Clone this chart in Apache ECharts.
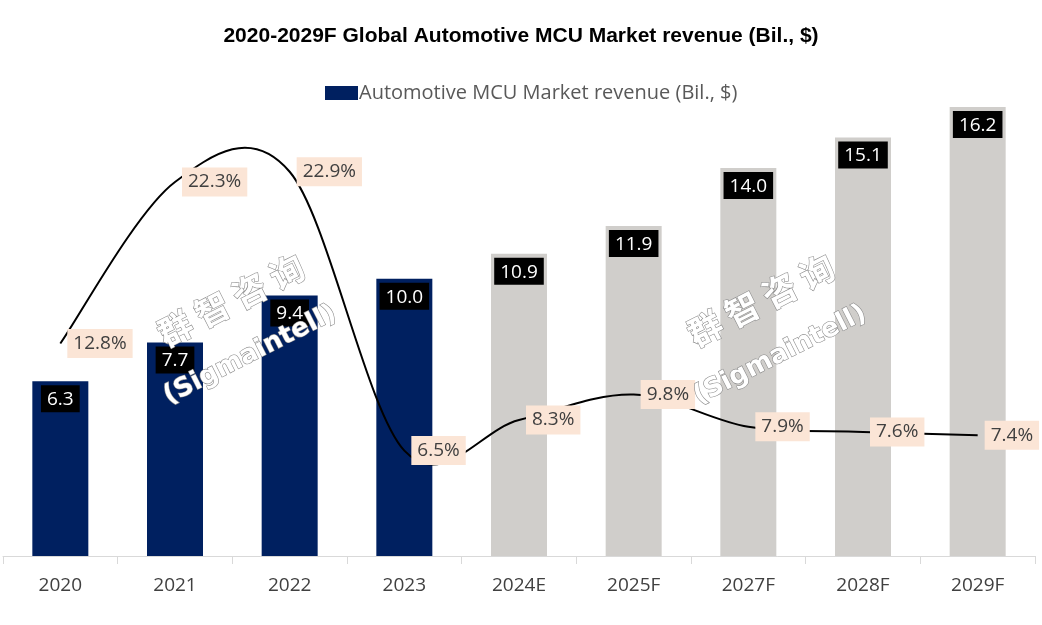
<!DOCTYPE html>
<html><head><meta charset="utf-8">
<script src="https://cdn.jsdelivr.net/npm/echarts@6/dist/echarts.min.js"></script>
<style>html,body{margin:0;padding:0;background:#fff}#c{width:1042px;height:625px}</style>
</head><body><div id="c"></div>
<script>
const categories = ['2020','2021','2022','2023','2024E','2025F','2027F','2028F','2029F'];
const revenue = [6.3, 7.7, 9.4, 10.0, 10.9, 11.9, 14.0, 15.1, 16.2];
const growth = [12.8, 22.3, 22.9, 6.5, 8.3, 9.8, 7.9, 7.6, 7.4];
const actualCount = 4;
const seriesName = 'Automotive MCU Market revenue (Bil., $)';
const titleText = '2020-2029F Global Automotive MCU Market revenue (Bil., $)';

const NAVY = '#002060', GRAY = '#d0cecb';
const chart = echarts.init(document.getElementById('c'));

// Spreadsheet-style smoothed curve through the points given by the axis scales
function renderCurve(params, api) {
  if (params.dataIndex !== 0) return null;
  const pts = growth.map((v, i) => api.coord([i, v]));
  const n = pts.length;
  let d = 'M' + pts[0][0] + ' ' + pts[0][1];
  for (let i = 0; i < n - 1; i++) {
    const p0 = pts[Math.max(i - 1, 0)], p1 = pts[i], p2 = pts[i + 1], p3 = pts[Math.min(i + 2, n - 1)];
    const c1 = [p1[0] + (p2[0] - p0[0]) / 6, p1[1] + (p2[1] - p0[1]) / 6];
    const c2 = [p2[0] - (p3[0] - p1[0]) / 6, p2[1] - (p3[1] - p1[1]) / 6];
    d += ' C' + c1[0] + ' ' + c1[1] + ' ' + c2[0] + ' ' + c2[1] + ' ' + p2[0] + ' ' + p2[1];
  }
  return {type: 'path', shape: {pathData: d}, style: {fill: 'none', stroke: '#000', lineWidth: 2}, z2: 5};
}

chart.setOption({
  backgroundColor: '#fff',
  animation: false,
  title: {
    text: titleText, left: 'center', top: 21,
    textStyle: {fontFamily: 'Liberation Sans, Arial', fontWeight: 'bold', fontSize: 21, color: '#000'}
  },
  legend: {
    data: [{name: seriesName, itemStyle: {color: NAVY}}], top: 78, left: 320,
    itemWidth: 33, itemHeight: 14, itemGap: 2,
    textStyle: {fontFamily: 'Open Sans', fontSize: 20, color: '#595959', padding: [0,0,0,-4]},
    icon: 'rect'
  },
  grid: {left: 3, right: 7, top: 57, bottom: 69, containLabel: false},
  xAxis: {
    type: 'category', data: categories,
    axisLine: {lineStyle: {color: '#d9d9d9', width: 1}},
    axisTick: {show: true, length: 8, lineStyle: {color: '#d9d9d9'}},
    axisLabel: {fontFamily: 'Open Sans', fontSize: 19, color: '#404040', margin: 20}
  },
  yAxis: [
    {type: 'value', min: 0, max: 18, show: false, splitLine: {show: false}},
    {type: 'value', min: 0.3, max: 29.65, show: false, splitLine: {show: false}}
  ],
  graphic: [
    {type: 'text', x: 240, y: 318, rotation: 0.47, silent: true, z: 100,
     style: {text: '群 智 咨 询', x: 0, y: -20, fontFamily: 'Noto Sans CJK SC', fontSize: 34, fontWeight: 'bold',
       fill: '#ffffff', stroke: '#8c8c8c', lineWidth: 1.2, textAlign: 'center', textVerticalAlign: 'middle'}},
    {type: 'text', x: 250, y: 355, rotation: 0.47, silent: true, z: 100,
     style: {text: '(Sigmaintell)', x: 0, y: 0, fontFamily: 'DejaVu Sans', fontSize: 26, fontWeight: 'bold',
       fill: '#ffffff', stroke: '#8c8c8c', lineWidth: 1.2, textAlign: 'center', textVerticalAlign: 'middle'}},
    {type: 'text', x: 770, y: 318, rotation: 0.47, silent: true, z: 100,
     style: {text: '群 智 咨 询', x: 0, y: -20, fontFamily: 'Noto Sans CJK SC', fontSize: 34, fontWeight: 'bold',
       fill: '#ffffff', stroke: '#8c8c8c', lineWidth: 1.2, textAlign: 'center', textVerticalAlign: 'middle'}},
    {type: 'text', x: 780, y: 355, rotation: 0.47, silent: true, z: 100,
     style: {text: '(Sigmaintell)', x: 0, y: 0, fontFamily: 'DejaVu Sans', fontSize: 26, fontWeight: 'bold',
       fill: '#ffffff', stroke: '#8c8c8c', lineWidth: 1.2, textAlign: 'center', textVerticalAlign: 'middle'}}
  ],
  series: [
    {
      name: seriesName, type: 'bar', data: revenue, barWidth: 56, yAxisIndex: 0,
      itemStyle: {color: (p) => p.dataIndex < actualCount ? NAVY : GRAY},
      label: {
        show: true, position: 'insideTop', distance: 4,
        formatter: (p) => p.value.toFixed(1),
        backgroundColor: '#000', color: '#fff', padding: [5, 6, 3, 6],
        fontFamily: 'Open Sans', fontSize: 19
      }
    },
    {
      name: 'growthCurve', type: 'custom', yAxisIndex: 1, data: growth.map((v, i) => [i, v]),
      renderItem: renderCurve, z: 4, silent: true
    },
    {
      name: 'growth', type: 'scatter', data: growth.map((v, i) => [i, v]), yAxisIndex: 1,
      symbol: 'circle', symbolSize: 2,
      itemStyle: {color: 'rgba(0,0,0,0)', opacity: 1},
      label: {
        show: true, position: 'right', distance: 6,
        formatter: (p) => p.value[1].toFixed(1) + '%',
        backgroundColor: '#fbe5d6', color: '#404040', padding: [6, 6, 4, 6],
        fontFamily: 'Open Sans', fontSize: 19
      },
      z: 6, silent: true
    }
  ]
});
</script></body></html>
